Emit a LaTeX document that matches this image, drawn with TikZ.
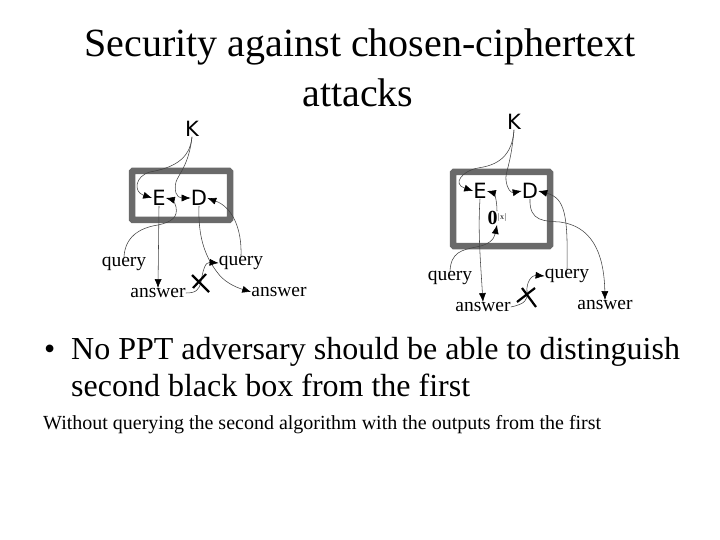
\documentclass[tikz,border=0pt]{standalone}
\usepackage{fontspec}
\setmainfont{Liberation Serif}
\newfontfamily\sanslbl{DejaVu Sans}
\usetikzlibrary{arrows.meta}
\definecolor{boxgray}{HTML}{6A6A6A}
\definecolor{linegray}{HTML}{444444}
\tikzset{
  title/.style={font=\fontsize{40}{44}\selectfont,align=center,inner sep=0pt},
  bodytext/.style={font=\fontsize{32}{35}\selectfont,anchor=west,inner sep=0pt,align=left},
  smalltext/.style={font=\fontsize{20}{23}\selectfont,anchor=west,inner sep=0pt},
  lbl/.style={font=\fontsize{19.5}{22}\selectfont,inner sep=0pt},
  letter/.style={font=\sanslbl\fontsize{21}{24}\selectfont,inner sep=0pt},
  blackbox/.style={draw=boxgray,line width=6.5pt,rounded corners=1pt},
  wire/.style={draw=linegray,line width=0.55pt,-{Latex[length=9pt,width=7pt,black]}},
  cross/.style={draw=black,line width=2.2pt}
}
\begin{document}
\begin{tikzpicture}[x=1pt,y=-1pt]
\useasboundingbox (0,0) rectangle (720,540);
\fill[white] (0,0) rectangle (720,540);
\node[title] (t1) at (360,47) {Security against chosen-ciphertext};
\node[title] (t2) at (358,93) {attacks};
% left diagram
\draw[blackbox] (132,171) rectangle (230,220);
\node[letter] (K1) at (192,129) {K};
\node[letter] (E1) at (159,198) {E};
\node[letter] (D1) at (199,198) {D};
\node[lbl] (q1) at (124,264) {query};
\node[lbl] (a1) at (158,293) {answer};
\node[lbl] (q2) at (241,263) {query};
\node[lbl] (a2) at (279,292) {answer};
\draw[wire] (K1.south) .. controls (190,160) and (172,168) .. (150,172) .. controls (135,176) and (133,192) .. (E1.west);
\draw[wire] (K1.south) .. controls (189,165) and (178,175) .. (176,182) .. controls (174,190) and (176,198) .. (D1.west);
\draw[wire] (q1.north) .. controls (125,238) and (138,228) .. (158,225) .. controls (172,222) and (178,217) .. (176,207) .. controls (175,201) and (170,199) .. (E1.east);
\draw[wire] (E1.south) -- (a1.north);
\draw[wire] (D1.south) .. controls (198,235) and (204,255) .. (217,272) .. controls (224,282) and (235,287) .. (a2.west);
\draw[wire] (q2.north) .. controls (242,228) and (232,207) .. (D1.east);
\draw[wire] (a1.east) .. controls (196,293) and (199,290) .. (201,282) .. controls (203,270) and (205,262) .. (q2.west);
\draw[cross] (192,275) -- (209,292) (206,274) -- (193,288);
% right diagram
\draw[blackbox] (453,172) rectangle (550,246);
\node[letter] (K2) at (514,122) {K};
\node[letter] (E2) at (480,191) {E};
\node[letter] (D2) at (530,191) {D};
\node[inner sep=0pt,font=\fontsize{20}{22}\selectfont] (z) at (497,218) {\textbf{0}\raisebox{5pt}{\fontsize{8}{9}\selectfont $|$x$|$}};
\node[lbl] (q3) at (450,278) {query};
\node[lbl] (a3) at (483,307) {answer};
\node[lbl] (q4) at (567,276) {query};
\node[lbl] (a4) at (605,305) {answer};
\draw[wire] (K2.south) .. controls (512,162) and (490,166) .. (478,168) .. controls (462,171) and (452,184) .. (E2.west);
\draw[wire] (K2.south) .. controls (511,165) and (505,172) .. (506,180) .. controls (507,189) and (511,193) .. (D2.west);
\draw[wire] (E2.south) .. controls (478,230) and (480,255) .. (a3.north);
\draw[wire] (D2.south) .. controls (529,222) and (545,221) .. (560,222) .. controls (590,226) and (604,250) .. (a4.north);
\draw[wire] (q4.north) .. controls (568,215) and (565,198) .. (D2.east);
\draw[wire] (z.north) .. controls (497,200) and (494,193) .. (E2.east);
\draw[wire] (q3.north) .. controls (451,252) and (462,250) .. (476,247) .. controls (488,245) and (494,240) .. (z.south);
\draw[wire] (a3.east) .. controls (525,304) and (528,300) .. (527,292) .. controls (526,282) and (532,275) .. (q4.west);
\draw[cross] (522,288) -- (536,307) (535,288) -- (517,302);
% text
\node[bodytext] (b0) at (44,352) {•};
\node[bodytext] (b1) at (71,352) {No PPT adversary should be able to distinguish};
\node[bodytext] (b2) at (71,385) {second black box from the first};
\node[smalltext] (s) at (43,425) {Without querying the second algorithm with the outputs from the first};
\end{tikzpicture}
\end{document}
